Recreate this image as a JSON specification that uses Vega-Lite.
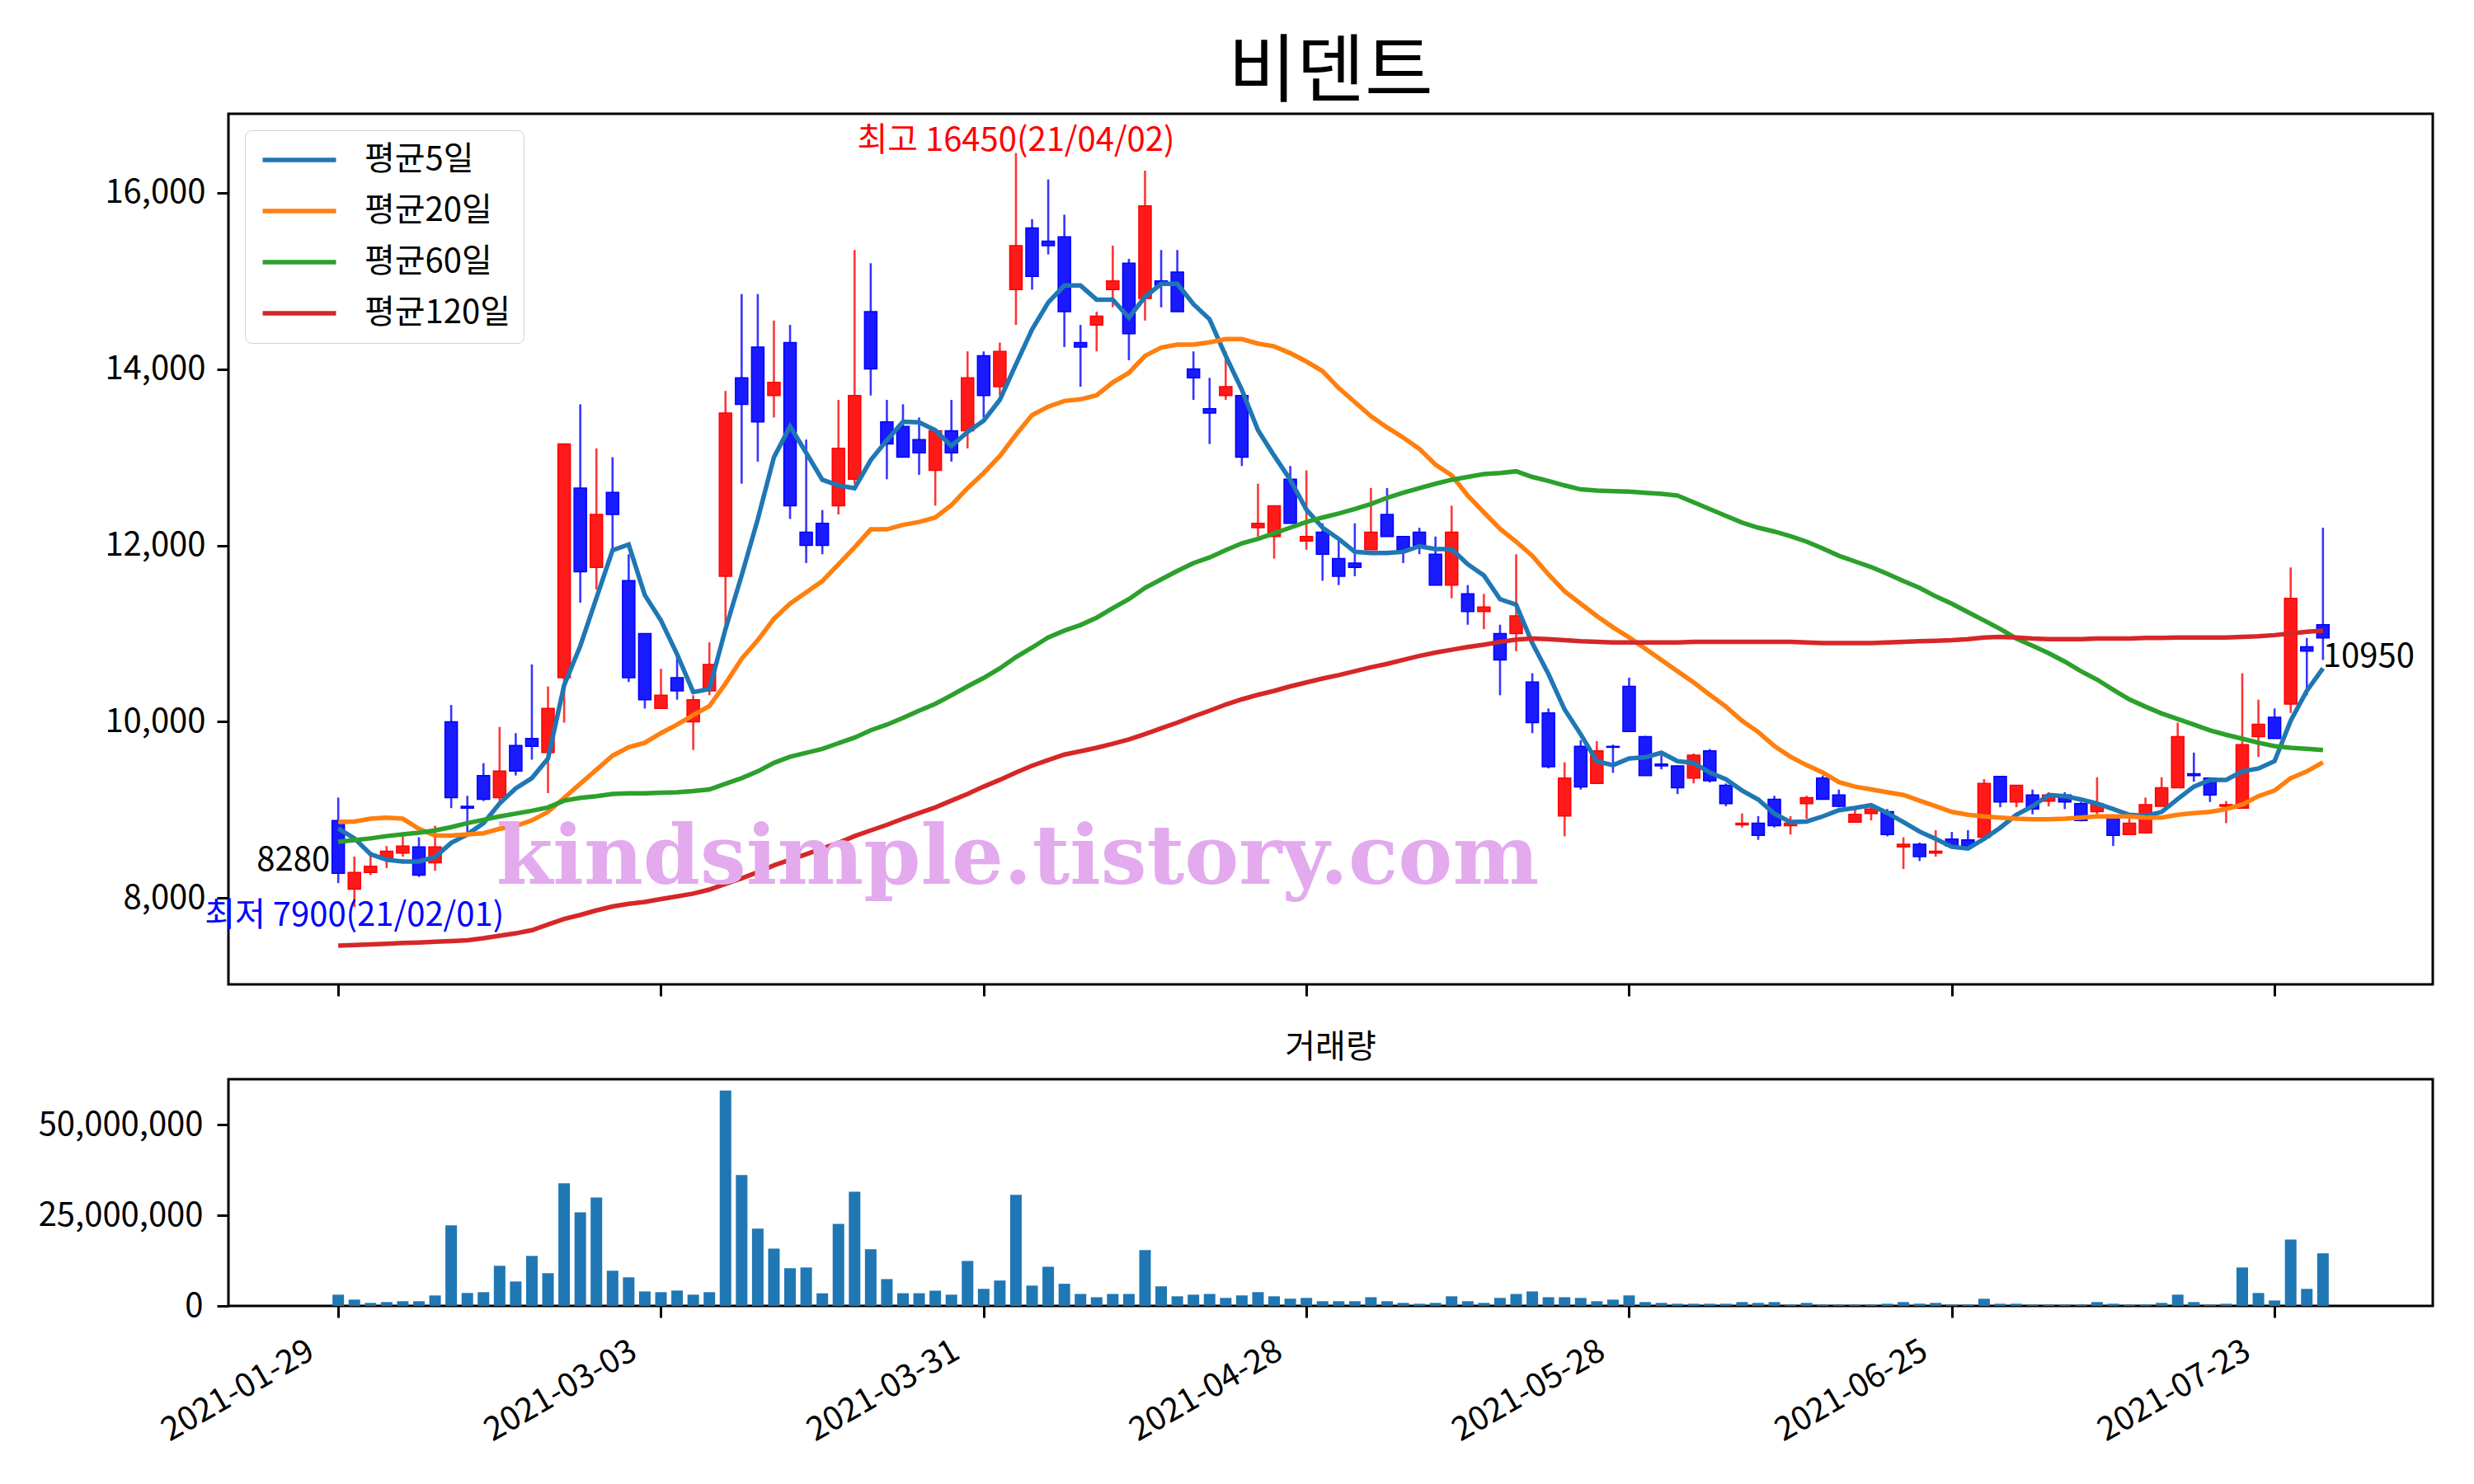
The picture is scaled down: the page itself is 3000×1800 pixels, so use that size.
{
"$schema": "https://vega.github.io/schema/vega-lite/v6.json",
"padding": {"left": 44, "top": 42, "right": 10, "bottom": 10},
"config": {
  "font": "Noto Sans CJK KR",
  "view": {"stroke": "black", "strokeWidth": 3},
  "axis": {"domain": false, "grid": false, "ticks": true, "tickSize": 14, "tickWidth": 3, "tickColor": "black", "labelFontSize": 40, "labelColor": "black", "labelPadding": 14, "labelFont": "Noto Sans CJK KR", "labelOverlap": false, "labelLimit": 600},
  "title": {"font": "Noto Sans CJK KR", "fontWeight": "normal", "color": "black"},
  "text": {"font": "Noto Sans CJK KR"}
},
"datasets": {
"ohlc": [
{"i":0,"d":"2021-01-29","o":8880,"h":9140,"l":8170,"c":8280,"v":3100000,"평균5일":8790,"평균20일":8862,"평균60일":8639,"평균120일":7460},
{"i":1,"d":"2021-02-01","o":8100,"h":8470,"l":7900,"c":8290,"v":1740000,"평균5일":8677,"평균20일":8868,"평균60일":8658,"평균120일":7468},
{"i":2,"d":"2021-02-02","o":8290,"h":8520,"l":8260,"c":8360,"v":830000,"평균5일":8498,"평균20일":8900,"평균60일":8677,"평균120일":7475},
{"i":3,"d":"2021-02-03","o":8450,"h":8590,"l":8340,"c":8530,"v":1060000,"평균5일":8434,"평균20일":8913,"평균60일":8703,"평균120일":7482},
{"i":4,"d":"2021-02-04","o":8510,"h":8700,"l":8470,"c":8590,"v":1290000,"평균5일":8415,"평균20일":8900,"평균60일":8722,"평균120일":7490},
{"i":5,"d":"2021-02-05","o":8580,"h":8690,"l":8240,"c":8260,"v":1290000,"평균5일":8415,"평균20일":8786,"평균60일":8741,"평균120일":7496},
{"i":6,"d":"2021-02-08","o":8400,"h":8820,"l":8310,"c":8580,"v":2880000,"평균5일":8466,"평균20일":8709,"평균60일":8767,"평균120일":7505},
{"i":7,"d":"2021-02-09","o":10000,"h":10190,"l":9020,"c":9140,"v":22200000,"평균5일":8626,"평균20일":8709,"평균60일":8805,"평균120일":7513},
{"i":8,"d":"2021-02-10","o":9040,"h":9160,"l":8750,"c":9020,"v":3560000,"평균5일":8722,"평균20일":8722,"평균60일":8850,"평균120일":7522},
{"i":9,"d":"2021-02-15","o":9390,"h":9530,"l":9100,"c":9120,"v":3790000,"평균5일":8850,"평균20일":8735,"평균60일":8888,"평균120일":7545},
{"i":10,"d":"2021-02-16","o":9140,"h":9940,"l":9100,"c":9440,"v":11060000,"평균5일":9073,"평균20일":8786,"평균60일":8926,"평균120일":7573},
{"i":11,"d":"2021-02-17","o":9730,"h":9870,"l":9390,"c":9440,"v":6740000,"평균5일":9245,"평균20일":8818,"평균60일":8958,"평균120일":7600},
{"i":12,"d":"2021-02-18","o":9810,"h":10650,"l":9570,"c":9720,"v":13790000,"평균5일":9360,"평균20일":8881,"평균60일":8990,"평균120일":7636},
{"i":13,"d":"2021-02-19","o":9650,"h":10400,"l":9190,"c":10150,"v":9020000,"평균5일":9584,"평균20일":8977,"평균60일":9028,"평균120일":7700},
{"i":14,"d":"2021-02-22","o":10500,"h":13150,"l":9990,"c":13150,"v":33800000,"평균5일":10414,"평균20일":9137,"평균60일":9105,"평균120일":7764},
{"i":15,"d":"2021-02-23","o":12650,"h":13600,"l":11350,"c":11700,"v":25800000,"평균5일":10860,"평균20일":9296,"평균60일":9137,"평균120일":7809},
{"i":16,"d":"2021-02-24","o":11750,"h":13100,"l":11500,"c":12350,"v":29900000,"평균5일":11403,"평균20일":9456,"평균60일":9156,"평균120일":7860},
{"i":17,"d":"2021-02-25","o":12600,"h":13000,"l":11950,"c":12350,"v":9700000,"평균5일":11946,"평균20일":9616,"평균60일":9181,"평균120일":7905},
{"i":18,"d":"2021-02-26","o":11600,"h":11900,"l":10450,"c":10500,"v":7880000,"평균5일":12010,"평균20일":9711,"평균60일":9188,"평균120일":7935},
{"i":19,"d":"2021-03-02","o":11000,"h":11000,"l":10150,"c":10250,"v":4000000,"평균5일":11435,"평균20일":9762,"평균60일":9188,"평균120일":7956},
{"i":20,"d":"2021-03-03","o":10150,"h":10600,"l":10150,"c":10300,"v":3790000,"평균5일":11148,"평균20일":9871,"평균60일":9194,"평균120일":7988},
{"i":21,"d":"2021-03-04","o":10500,"h":10750,"l":10250,"c":10350,"v":4240000,"평균5일":10765,"평균20일":9967,"평균60일":9200,"평균120일":8019},
{"i":22,"d":"2021-03-05","o":10000,"h":10300,"l":9680,"c":10250,"v":3100000,"평균5일":10337,"평균20일":10075,"평균60일":9213,"평균120일":8051},
{"i":23,"d":"2021-03-08","o":10350,"h":10900,"l":10300,"c":10650,"v":3790000,"평균5일":10369,"평균20일":10177,"평균60일":9232,"평균120일":8096},
{"i":24,"d":"2021-03-09","o":11650,"h":13750,"l":11100,"c":13500,"v":59400000,"평균5일":11052,"평균20일":10433,"평균60일":9296,"평균120일":8160},
{"i":25,"d":"2021-03-10","o":13900,"h":14850,"l":12700,"c":13600,"v":36100000,"평균5일":11659,"평균20일":10714,"평균60일":9360,"평균120일":8224},
{"i":26,"d":"2021-03-11","o":14250,"h":14850,"l":12950,"c":13400,"v":21300000,"평균5일":12297,"평균20일":10924,"평균60일":9437,"평균120일":8294},
{"i":27,"d":"2021-03-12","o":13700,"h":14550,"l":13450,"c":13850,"v":15800000,"평균5일":12999,"평균20일":11167,"평균60일":9533,"평균120일":8371},
{"i":28,"d":"2021-03-15","o":14300,"h":14500,"l":12300,"c":12450,"v":10400000,"평균5일":13350,"평균20일":11339,"평균60일":9603,"평균120일":8434},
{"i":29,"d":"2021-03-16","o":12150,"h":13200,"l":11800,"c":12000,"v":10600000,"평균5일":13050,"평균20일":11467,"평균60일":9648,"평균120일":8498},
{"i":30,"d":"2021-03-17","o":12250,"h":12400,"l":11900,"c":12000,"v":3480000,"평균5일":12744,"평균20일":11595,"평균60일":9692,"평균120일":8562},
{"i":31,"d":"2021-03-18","o":12450,"h":13650,"l":12350,"c":13100,"v":22600000,"평균5일":12680,"평균20일":11786,"평균60일":9756,"평균120일":8626},
{"i":32,"d":"2021-03-19","o":12750,"h":15350,"l":12700,"c":13700,"v":31500000,"평균5일":12648,"평균20일":11978,"평균60일":9820,"평균120일":8703},
{"i":33,"d":"2021-03-22","o":14650,"h":15200,"l":13700,"c":14000,"v":15600000,"평균5일":12967,"평균20일":12182,"평균60일":9903,"평균120일":8767},
{"i":34,"d":"2021-03-23","o":13400,"h":13650,"l":12750,"c":13150,"v":7400000,"평균5일":13191,"평균20일":12182,"평균60일":9967,"평균120일":8830},
{"i":35,"d":"2021-03-24","o":13350,"h":13600,"l":13000,"c":13000,"v":3500000,"평균5일":13402,"평균20일":12233,"평균60일":10043,"평균120일":8900},
{"i":36,"d":"2021-03-25","o":13200,"h":13450,"l":12800,"c":13050,"v":3500000,"평균5일":13395,"평균20일":12265,"평균60일":10126,"평균120일":8964},
{"i":37,"d":"2021-03-26","o":12850,"h":13300,"l":12450,"c":13300,"v":4200000,"평균5일":13306,"평균20일":12316,"평균60일":10203,"평균120일":9028},
{"i":38,"d":"2021-03-29","o":13300,"h":13650,"l":12950,"c":13050,"v":3100000,"평균5일":13127,"평균20일":12457,"평균60일":10299,"평균120일":9105},
{"i":39,"d":"2021-03-30","o":13300,"h":14200,"l":13100,"c":13900,"v":12400000,"평균5일":13287,"평균20일":12648,"평균60일":10401,"평균120일":9181},
{"i":40,"d":"2021-03-31","o":14150,"h":14200,"l":13450,"c":13700,"v":4700000,"평균5일":13414,"평균20일":12821,"평균60일":10497,"평균120일":9264},
{"i":41,"d":"2021-04-01","o":13800,"h":14300,"l":13700,"c":14200,"v":7000000,"평균5일":13650,"평균20일":13012,"평균60일":10605,"평균120일":9341},
{"i":42,"d":"2021-04-02","o":14900,"h":16450,"l":14500,"c":15400,"v":30600000,"평균5일":14053,"평균20일":13255,"평균60일":10733,"평균120일":9424},
{"i":43,"d":"2021-04-05","o":15600,"h":15700,"l":14900,"c":15050,"v":5600000,"평균5일":14449,"평균20일":13478,"평균60일":10841,"평균120일":9501},
{"i":44,"d":"2021-04-06","o":15450,"h":16150,"l":15300,"c":15400,"v":10800000,"평균5일":14755,"평균20일":13574,"평균60일":10956,"평균120일":9565},
{"i":45,"d":"2021-04-07","o":15500,"h":15750,"l":14250,"c":14650,"v":6100000,"평균5일":14947,"평균20일":13638,"평균60일":11033,"평균120일":9628},
{"i":46,"d":"2021-04-08","o":14300,"h":14500,"l":13800,"c":14250,"v":3300000,"평균5일":14947,"평균20일":13657,"평균60일":11097,"평균120일":9665},
{"i":47,"d":"2021-04-09","o":14500,"h":14650,"l":14200,"c":14600,"v":2400000,"평균5일":14787,"평균20일":13702,"평균60일":11180,"평균120일":9705},
{"i":48,"d":"2021-04-12","o":14900,"h":15400,"l":14700,"c":15000,"v":3300000,"평균5일":14787,"평균20일":13849,"평균60일":11288,"평균120일":9750},
{"i":49,"d":"2021-04-13","o":15200,"h":15250,"l":14100,"c":14400,"v":3300000,"평균5일":14583,"평균20일":13957,"평균60일":11390,"평균120일":9800},
{"i":50,"d":"2021-04-14","o":14800,"h":16250,"l":14550,"c":15850,"v":15400000,"평균5일":14819,"평균20일":14149,"평균60일":11518,"평균120일":9860},
{"i":51,"d":"2021-04-15","o":15000,"h":15350,"l":14700,"c":14950,"v":5400000,"평균5일":14966,"평균20일":14244,"평균60일":11614,"평균120일":9925},
{"i":52,"d":"2021-04-16","o":15100,"h":15350,"l":14650,"c":14650,"v":2650000,"평균5일":14966,"평균20일":14276,"평균60일":11710,"평균120일":9990},
{"i":53,"d":"2021-04-19","o":14000,"h":14200,"l":13650,"c":13900,"v":3100000,"평균5일":14736,"평균20일":14276,"평균60일":11799,"평균120일":10060},
{"i":54,"d":"2021-04-20","o":13550,"h":13900,"l":13150,"c":13500,"v":3300000,"평균5일":14564,"평균20일":14302,"평균60일":11863,"평균120일":10125},
{"i":55,"d":"2021-04-21","o":13700,"h":14200,"l":13650,"c":13800,"v":2200000,"평균5일":14149,"평균20일":14340,"평균60일":11946,"평균120일":10195},
{"i":56,"d":"2021-04-22","o":13700,"h":13700,"l":12900,"c":13000,"v":2900000,"평균5일":13765,"평균20일":14340,"평균60일":12023,"평균120일":10254},
{"i":57,"d":"2021-04-23","o":12200,"h":12700,"l":12100,"c":12250,"v":3800000,"평균5일":13306,"평균20일":14289,"평균60일":12074,"평균120일":10305},
{"i":58,"d":"2021-04-26","o":12100,"h":12450,"l":11850,"c":12450,"v":2650000,"평균5일":13018,"평균20일":14257,"평균60일":12137,"평균120일":10350},
{"i":59,"d":"2021-04-27","o":12750,"h":12900,"l":12250,"c":12250,"v":2000000,"평균5일":12744,"평균20일":14180,"평균60일":12201,"평균120일":10401},
{"i":60,"d":"2021-04-28","o":12050,"h":12850,"l":11950,"c":12100,"v":2200000,"평균5일":12406,"평균20일":14085,"평균60일":12265,"평균120일":10446},
{"i":61,"d":"2021-04-29","o":12150,"h":12250,"l":11600,"c":11900,"v":1300000,"평균5일":12201,"평균20일":13976,"평균60일":12316,"평균120일":10490},
{"i":62,"d":"2021-04-30","o":11850,"h":12050,"l":11550,"c":11650,"v":1300000,"평균5일":12074,"평균20일":13785,"평균60일":12361,"평균120일":10528},
{"i":63,"d":"2021-05-03","o":11800,"h":12250,"l":11650,"c":11750,"v":1300000,"평균5일":11927,"평균20일":13625,"평균60일":12412,"평균120일":10573},
{"i":64,"d":"2021-05-04","o":11950,"h":12650,"l":11950,"c":12150,"v":2400000,"평균5일":11914,"평균20일":13465,"평균60일":12469,"평균120일":10618},
{"i":65,"d":"2021-05-06","o":12350,"h":12650,"l":12100,"c":12100,"v":1300000,"평균5일":11914,"평균20일":13338,"평균60일":12540,"평균120일":10656},
{"i":66,"d":"2021-05-07","o":12100,"h":12100,"l":11800,"c":11950,"v":830000,"평균5일":11927,"평균20일":13223,"평균60일":12597,"평균120일":10701},
{"i":67,"d":"2021-05-10","o":12150,"h":12200,"l":11900,"c":12000,"v":600000,"평균5일":11991,"평균20일":13095,"평균60일":12648,"평균120일":10746},
{"i":68,"d":"2021-05-11","o":11900,"h":12100,"l":11550,"c":11550,"v":830000,"평균5일":11959,"평균20일":12916,"평균60일":12699,"평균120일":10784},
{"i":69,"d":"2021-05-12","o":11550,"h":12450,"l":11400,"c":12150,"v":2650000,"평균5일":11959,"평균20일":12795,"평균60일":12744,"평균120일":10816},
{"i":70,"d":"2021-05-13","o":11450,"h":11550,"l":11100,"c":11250,"v":1300000,"평균5일":11786,"평균20일":12565,"평균60일":12776,"평균120일":10848},
{"i":71,"d":"2021-05-14","o":11250,"h":11450,"l":11050,"c":11300,"v":830000,"평균5일":11659,"평균20일":12374,"평균60일":12808,"평균120일":10873},
{"i":72,"d":"2021-05-17","o":11000,"h":11100,"l":10300,"c":10700,"v":2200000,"평균5일":11390,"평균20일":12188,"평균60일":12821,"평균120일":10905},
{"i":73,"d":"2021-05-18","o":11000,"h":11900,"l":10800,"c":11200,"v":3300000,"평균5일":11327,"평균20일":12042,"평균60일":12840,"평균120일":10931},
{"i":74,"d":"2021-05-20","o":10450,"h":10550,"l":9870,"c":9990,"v":4000000,"평균5일":10892,"평균20일":11882,"평균60일":12776,"평균120일":10944},
{"i":75,"d":"2021-05-21","o":10100,"h":10150,"l":9470,"c":9490,"v":2400000,"평균5일":10541,"평균20일":11671,"평균60일":12731,"평균120일":10937},
{"i":76,"d":"2021-05-24","o":8930,"h":9540,"l":8700,"c":9360,"v":2400000,"평균5일":10139,"평균20일":11480,"평균60일":12680,"평균120일":10924},
{"i":77,"d":"2021-05-25","o":9720,"h":9790,"l":9230,"c":9260,"v":2200000,"평균5일":9858,"평균20일":11339,"평균60일":12635,"평균120일":10912},
{"i":78,"d":"2021-05-26","o":9300,"h":9780,"l":9300,"c":9670,"v":1300000,"평균5일":9552,"평균20일":11199,"평균60일":12622,"평균120일":10905},
{"i":79,"d":"2021-05-27","o":9720,"h":9740,"l":9420,"c":9710,"v":1740000,"평균5일":9507,"평균20일":11071,"평균60일":12616,"평균120일":10899},
{"i":80,"d":"2021-05-28","o":10400,"h":10500,"l":9890,"c":9890,"v":2900000,"평균5일":9584,"평균20일":10956,"평균60일":12610,"평균120일":10899},
{"i":81,"d":"2021-05-31","o":9830,"h":9840,"l":9390,"c":9390,"v":1060000,"평균5일":9596,"평균20일":10829,"평균60일":12597,"평균120일":10899},
{"i":82,"d":"2021-06-01","o":9520,"h":9620,"l":9460,"c":9500,"v":830000,"평균5일":9648,"평균20일":10701,"평균60일":12584,"평균120일":10899},
{"i":83,"d":"2021-06-02","o":9500,"h":9500,"l":9180,"c":9250,"v":600000,"평균5일":9552,"평균20일":10573,"평균60일":12565,"평균120일":10899},
{"i":84,"d":"2021-06-03","o":9360,"h":9640,"l":9300,"c":9620,"v":600000,"평균5일":9533,"평균20일":10446,"평균60일":12489,"평균120일":10905},
{"i":85,"d":"2021-06-04","o":9670,"h":9690,"l":9310,"c":9330,"v":600000,"평균5일":9424,"평균20일":10305,"평균60일":12412,"평균120일":10905},
{"i":86,"d":"2021-06-07","o":9280,"h":9300,"l":9040,"c":9070,"v":600000,"평균5일":9347,"평균20일":10171,"평균60일":12335,"평균120일":10905},
{"i":87,"d":"2021-06-08","o":8830,"h":8960,"l":8800,"c":8850,"v":1060000,"평균5일":9220,"평균20일":10011,"평균60일":12259,"평균120일":10905},
{"i":88,"d":"2021-06-09","o":8850,"h":8930,"l":8660,"c":8710,"v":830000,"평균5일":9118,"평균20일":9884,"평균60일":12201,"평균120일":10905},
{"i":89,"d":"2021-06-10","o":9120,"h":9160,"l":8800,"c":8820,"v":1060000,"평균5일":8958,"평균20일":9724,"평균60일":12157,"평균120일":10905},
{"i":90,"d":"2021-06-11","o":8820,"h":8930,"l":8720,"c":8850,"v":380000,"평균5일":8862,"평균20일":9603,"평균60일":12105,"평균120일":10905},
{"i":91,"d":"2021-06-14","o":9070,"h":9160,"l":8900,"c":9140,"v":830000,"평균5일":8868,"평균20일":9507,"평균60일":12042,"평균120일":10899},
{"i":92,"d":"2021-06-15","o":9360,"h":9390,"l":9120,"c":9120,"v":380000,"평균5일":8926,"평균20일":9424,"평균60일":11965,"평균120일":10892},
{"i":93,"d":"2021-06-16","o":9170,"h":9230,"l":9030,"c":9040,"v":380000,"평균5일":8996,"평균20일":9315,"평균60일":11882,"평균120일":10892},
{"i":94,"d":"2021-06-17","o":8860,"h":9010,"l":8860,"c":8950,"v":380000,"평균5일":9022,"평균20일":9264,"평균60일":11818,"평균120일":10892},
{"i":95,"d":"2021-06-18","o":8960,"h":9060,"l":8880,"c":9010,"v":380000,"평균5일":9054,"평균20일":9232,"평균60일":11754,"평균120일":10892},
{"i":96,"d":"2021-06-21","o":8980,"h":9010,"l":8700,"c":8720,"v":600000,"평균5일":8964,"평균20일":9200,"평균60일":11678,"평균120일":10899},
{"i":97,"d":"2021-06-22","o":8580,"h":8690,"l":8330,"c":8610,"v":1060000,"평균5일":8862,"평균20일":9169,"평균60일":11595,"평균120일":10905},
{"i":98,"d":"2021-06-23","o":8610,"h":8630,"l":8420,"c":8470,"v":600000,"평균5일":8754,"평균20일":9105,"평균60일":11518,"평균120일":10912},
{"i":99,"d":"2021-06-24","o":8510,"h":8770,"l":8470,"c":8530,"v":830000,"평균5일":8671,"평균20일":9041,"평균60일":11422,"평균120일":10918},
{"i":100,"d":"2021-06-25","o":8670,"h":8750,"l":8580,"c":8590,"v":380000,"평균5일":8581,"평균20일":8977,"평균60일":11339,"평균120일":10924},
{"i":101,"d":"2021-06-28","o":8660,"h":8770,"l":8580,"c":8590,"v":380000,"평균5일":8562,"평균20일":8945,"평균60일":11243,"평균120일":10937},
{"i":102,"d":"2021-06-29","o":8690,"h":9350,"l":8670,"c":9300,"v":1970000,"평균5일":8671,"평균20일":8926,"평균60일":11148,"평균120일":10956},
{"i":103,"d":"2021-06-30","o":9380,"h":9380,"l":9030,"c":9090,"v":600000,"평균5일":8798,"평균20일":8913,"평균60일":11052,"평균120일":10963},
{"i":104,"d":"2021-07-01","o":9090,"h":9280,"l":9030,"c":9280,"v":600000,"평균5일":8945,"평균20일":8900,"평균60일":10944,"평균120일":10956},
{"i":105,"d":"2021-07-02","o":9170,"h":9230,"l":8950,"c":9010,"v":380000,"평균5일":9041,"평균20일":8894,"평균60일":10861,"평균120일":10944},
{"i":106,"d":"2021-07-05","o":9100,"h":9200,"l":9040,"c":9170,"v":380000,"평균5일":9169,"평균20일":8894,"평균60일":10778,"평균120일":10937},
{"i":107,"d":"2021-07-06","o":9170,"h":9200,"l":9010,"c":9090,"v":380000,"평균5일":9156,"평균20일":8900,"평균60일":10682,"평균120일":10937},
{"i":108,"d":"2021-07-07","o":9070,"h":9090,"l":8870,"c":8880,"v":380000,"평균5일":9118,"평균20일":8913,"평균60일":10573,"평균120일":10937},
{"i":109,"d":"2021-07-08","o":8980,"h":9370,"l":8950,"c":9070,"v":1060000,"평균5일":9073,"평균20일":8926,"평균60일":10478,"평균120일":10944},
{"i":110,"d":"2021-07-09","o":8910,"h":8950,"l":8590,"c":8710,"v":600000,"평균5일":9009,"평균20일":8926,"평균60일":10363,"평균120일":10944},
{"i":111,"d":"2021-07-12","o":8720,"h":8900,"l":8720,"c":8850,"v":380000,"평균5일":8945,"평균20일":8926,"평균60일":10254,"평균120일":10944},
{"i":112,"d":"2021-07-13","o":8740,"h":9140,"l":8740,"c":9060,"v":380000,"평균5일":8932,"평균20일":8913,"평균60일":10171,"평균120일":10950},
{"i":113,"d":"2021-07-14","o":9040,"h":9370,"l":9040,"c":9250,"v":830000,"평균5일":8977,"평균20일":8913,"평균60일":10094,"평균120일":10950},
{"i":114,"d":"2021-07-15","o":9250,"h":9990,"l":9250,"c":9830,"v":3100000,"평균5일":9124,"평균20일":8945,"평균60일":10030,"평균120일":10956},
{"i":115,"d":"2021-07-16","o":9410,"h":9650,"l":9320,"c":9390,"v":1060000,"평균5일":9264,"평균20일":8964,"평균60일":9967,"평균120일":10956},
{"i":116,"d":"2021-07-19","o":9360,"h":9370,"l":9090,"c":9170,"v":380000,"평균5일":9341,"평균20일":8977,"평균60일":9903,"평균120일":10956},
{"i":117,"d":"2021-07-20","o":9040,"h":9100,"l":8850,"c":9060,"v":600000,"평균5일":9341,"평균20일":9009,"평균60일":9852,"평균120일":10956},
{"i":118,"d":"2021-07-21","o":9020,"h":10550,"l":9020,"c":9740,"v":10600000,"평균5일":9437,"평균20일":9060,"평균60일":9807,"평균120일":10963},
{"i":119,"d":"2021-07-22","o":9830,"h":10250,"l":9600,"c":9970,"v":3560000,"평균5일":9469,"평균20일":9156,"평균60일":9762,"평균120일":10969},
{"i":120,"d":"2021-07-23","o":10050,"h":10150,"l":9810,"c":9810,"v":1500000,"평균5일":9552,"평균20일":9220,"평균60일":9724,"평균120일":10982},
{"i":121,"d":"2021-07-26","o":10200,"h":11750,"l":10100,"c":11400,"v":18300000,"평균5일":10011,"평균20일":9360,"평균60일":9705,"평균120일":11001},
{"i":122,"d":"2021-07-27","o":10850,"h":10950,"l":10300,"c":10800,"v":4700000,"평균5일":10350,"평균20일":9437,"평균60일":9692,"평균120일":11020},
{"i":123,"d":"2021-07-28","o":11100,"h":12200,"l":10700,"c":10950,"v":14500000,"평균5일":10605,"평균20일":9539,"평균60일":9679,"평균120일":11033}
]
},
"resolve": {"scale": {"color": "independent"}, "legend": {"color": "independent"}},
"spacing": 38,
"vconcat": [
{
  "title": {"text": "비덴트", "fontSize": 90, "offset": 3},
  "width": 2673,
  "height": 1056,
  "data": {"name": "ohlc"},
  "encoding": {
    "x": {"field": "i", "type": "quantitative", "title": null,
          "scale": {"domain": [-6.55, 129.55], "nice": false, "zero": false},
          "axis": {"values": [0, 20, 40, 60, 80, 100, 120], "labels": false, "title": null}}
  },
  "layer": [
    {
      "mark": {"type": "rule", "strokeWidth": 2.6},
      "encoding": {
        "y": {"field": "l", "type": "quantitative", "title": null, "scale": {"domain": [7021, 16895], "nice": false, "zero": false}, "axis": {"values": [8000, 10000, 12000, 14000, 16000], "format": ",.0f", "title": null}},
        "y2": {"field": "h"},
        "color": {"condition": {"test": "datum.c > datum.o", "value": "#ff3636"}, "value": "#3636ff"}
      }
    },
    {
      "mark": {"type": "bar", "size": 15, "strokeWidth": 1.5},
      "encoding": {
        "y": {"field": "o", "type": "quantitative", "title": null, "scale": {"domain": [7021, 16895], "nice": false, "zero": false}, "axis": {"values": [8000, 10000, 12000, 14000, 16000], "format": ",.0f", "title": null}},
        "y2": {"field": "c"},
        "fill": {"condition": {"test": "datum.c > datum.o", "value": "#ff1a1a"}, "value": "#1a1aff"},
        "stroke": {"condition": {"test": "datum.c > datum.o", "value": "#ff0000"}, "value": "#0000ff"}
      }
    },
    {
      "transform": [{"fold": ["평균5일", "평균20일", "평균60일", "평균120일"], "as": ["ma", "val"]}],
      "mark": {"type": "line", "strokeWidth": 5.5},
      "encoding": {
        "y": {"field": "val", "type": "quantitative", "title": null, "scale": {"domain": [7021, 16895], "nice": false, "zero": false}, "axis": {"values": [8000, 10000, 12000, 14000, 16000], "format": ",.0f", "title": null}},
        "color": {"field": "ma", "type": "nominal",
          "scale": {"domain": ["평균5일", "평균20일", "평균60일", "평균120일"], "range": ["#1f77b4", "#ff7f0e", "#2ca02c", "#d62728"]},
          "legend": {"orient": "top-left", "offset": 20, "title": null, "symbolType": "M-3,0H3", "symbolSize": 880, "symbolStrokeWidth": 5.5, "symbolOffset": 30, "labelFontSize": 40, "labelFont": "Noto Sans CJK KR", "labelColor": "black", "labelLimit": 600, "labelOffset": 59, "rowPadding": 22, "padding": 16, "fillColor": "rgba(255,255,255,0.85)", "strokeColor": "#d0d0d0", "cornerRadius": 8}}
      }
    },
    {
      "data": {"values": [{"i": 42.1, "p": 8160, "t": "kindsimple.tistory.com"}]},
      "mark": {"type": "text", "font": "DejaVu Serif", "fontWeight": "bold", "fontSize": 99, "align": "center", "baseline": "alphabetic", "color": "#e3aaee"},
      "encoding": {
        "y": {"field": "p", "type": "quantitative", "title": null, "scale": {"domain": [7021, 16895], "nice": false, "zero": false}, "axis": {"values": [8000, 10000, 12000, 14000, 16000], "format": ",.0f", "title": null}},
        "text": {"field": "t"}
      }
    },
    {
      "data": {"values": [{"i": 42, "p": 16450, "t": "최고 16450(21/04/02)"}]},
      "mark": {"type": "text", "fontSize": 40, "align": "center", "baseline": "alphabetic", "dy": -3, "color": "#ff0000"},
      "encoding": {
        "y": {"field": "p", "type": "quantitative", "title": null, "scale": {"domain": [7021, 16895], "nice": false, "zero": false}, "axis": {"values": [8000, 10000, 12000, 14000, 16000], "format": ",.0f", "title": null}},
        "text": {"field": "t"}
      }
    },
    {
      "data": {"values": [{"i": 1, "p": 7900, "t": "최저 7900(21/02/01)"}]},
      "mark": {"type": "text", "fontSize": 40, "align": "center", "baseline": "top", "dy": -9, "color": "#0000ff"},
      "encoding": {
        "y": {"field": "p", "type": "quantitative", "title": null, "scale": {"domain": [7021, 16895], "nice": false, "zero": false}, "axis": {"values": [8000, 10000, 12000, 14000, 16000], "format": ",.0f", "title": null}},
        "text": {"field": "t"}
      }
    },
    {
      "data": {"values": [{"i": 0, "p": 8280, "t": "8280"}]},
      "mark": {"type": "text", "fontSize": 40, "align": "right", "baseline": "alphabetic", "dy": -3, "dx": -10, "color": "black"},
      "encoding": {
        "y": {"field": "p", "type": "quantitative", "title": null, "scale": {"domain": [7021, 16895], "nice": false, "zero": false}, "axis": {"values": [8000, 10000, 12000, 14000, 16000], "format": ",.0f", "title": null}},
        "text": {"field": "t"}
      }
    },
    {
      "data": {"values": [{"i": 123, "p": 10950, "t": "10950"}]},
      "mark": {"type": "text", "fontSize": 40, "align": "left", "baseline": "top", "dy": 3, "color": "black"},
      "encoding": {
        "y": {"field": "p", "type": "quantitative", "title": null, "scale": {"domain": [7021, 16895], "nice": false, "zero": false}, "axis": {"values": [8000, 10000, 12000, 14000, 16000], "format": ",.0f", "title": null}},
        "text": {"field": "t"}
      }
    }
  ]
},
{
  "title": {"text": "거래량", "fontSize": 40, "offset": 18},
  "width": 2673,
  "height": 275,
  "data": {"name": "ohlc"},
  "mark": {"type": "bar", "size": 14, "color": "#1f77b4"},
  "encoding": {
    "x": {"field": "i", "type": "quantitative", "title": null,
          "scale": {"domain": [-6.55, 129.55], "nice": false, "zero": false},
          "axis": {"values": [0, 20, 40, 60, 80, 100, 120], "title": null,
                   "labelExpr": "['2021-01-29','2021-03-03','2021-03-31','2021-04-28','2021-05-28','2021-06-25','2021-07-23'][round(datum.value/20)]",
                   "labelAngle": -30, "labelAlign": "right", "labelBaseline": "top", "labelPadding": 20, "labelOffset": -43}},
    "y": {"field": "v", "type": "quantitative", "title": null,
          "scale": {"domain": [0, 62500000], "nice": false, "zero": true},
          "axis": {"values": [0, 25000000, 50000000], "format": ",.0f", "title": null, "labelPadding": 17}}
  }
}
]
}
